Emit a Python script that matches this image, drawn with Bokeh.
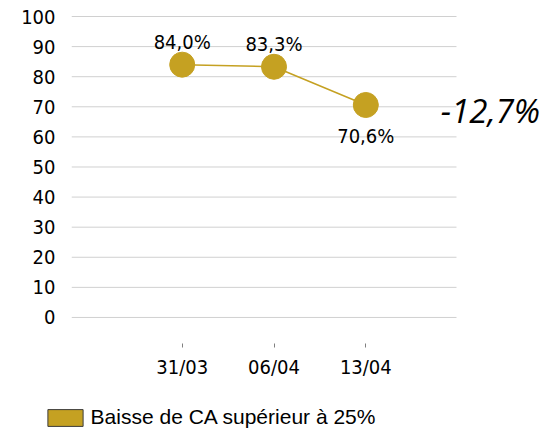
from bokeh.plotting import figure
from bokeh.layouts import column
from bokeh.models import (ColumnDataSource, Range1d, FixedTicker, Legend, LegendItem)
from bokeh.core.properties import value
from bokeh.embed import file_html
from bokeh.resources import INLINE

# ---- data ----
dates = ["31/03", "06/04", "13/04"]
values = [84.0, 83.3, 70.6]
labels = ["84,0%", "83,3%", "70,6%"]
label_side = ["above", "above", "below"]
series_name = "Baisse de CA supérieur à 25%"
y_ticks = [0, 10, 20, 30, 40, 50, 60, 70, 80, 90, 100]

GOLD = "#C5A122"
FONT = "DejaVu Sans Condensed"
idx = list(range(len(dates)))
change = values[-1] - values[-2]
change_text = ("%.1f%%" % change).replace(".", ",")

X_START, GRID_END, X_END = -1.206, 2.988, 4.121

src = ColumnDataSource(dict(
    x=idx, y=values, lab=labels,
    yoff=[-23 if s == "above" else 31 for s in label_side],
))
grid_src = ColumnDataSource(dict(y=y_ticks, x0=[X_START] * len(y_ticks),
                                 x1=[GRID_END] * len(y_ticks)))

p = figure(width=560, height=384, output_backend="svg", toolbar_location=None,
           x_range=Range1d(X_START, X_END), y_range=Range1d(-8.65, 101),
           min_border_top=13, min_border_bottom=41, min_border_left=71,
           min_border_right=0)
p.frame_align = False
p.outline_line_color = None
p.background_fill_color = "white"
p.xgrid.grid_line_color = None
p.ygrid.grid_line_color = None

# horizontal gridlines (end before the annotation area)
p.segment(x0="x0", x1="x1", y0="y", y1="y", source=grid_src,
          line_color="#d0d0d0", line_width=1)

p.line("x", "y", source=src, line_color=GOLD, line_width=1.5)
p.scatter("x", "y", source=src, size=25, fill_color=GOLD, line_color=GOLD)
p.text("x", "y", text="lab", source=src, y_offset="yoff",
       text_align="center", text_baseline="middle",
       text_font=value(FONT), text_font_size="20px", text_color="black")

# change annotation
p.text(x=[3.358], y=[68.9], text=[change_text],
       text_font=value("Open Sans"), text_font_style="italic",
       text_font_size="33px", text_align="center",
       text_baseline="middle", text_color="black")

# axes
p.yaxis.ticker = FixedTicker(ticks=y_ticks)
p.yaxis.axis_line_color = None
p.yaxis.major_tick_line_color = None
p.yaxis.minor_tick_line_color = None
p.yaxis.major_label_text_font = FONT
p.yaxis.major_label_text_font_size = "20px"
p.yaxis.major_label_text_color = "black"
p.yaxis.major_label_standoff = 10

p.xaxis.ticker = FixedTicker(ticks=idx)
p.xaxis.major_label_overrides = {i: d for i, d in zip(idx, dates)}
p.xaxis.axis_line_color = None
p.xaxis.major_tick_line_color = "#808080"
p.xaxis.major_tick_in = 0
p.xaxis.major_tick_out = 4
p.xaxis.minor_tick_line_color = None
p.xaxis.major_label_text_font = FONT
p.xaxis.major_label_text_font_size = "20px"
p.xaxis.major_label_text_color = "black"
p.xaxis.major_label_standoff = 7

# legend in its own strip below the chart
lg = figure(width=560, height=45, output_backend="svg", toolbar_location=None,
            x_range=Range1d(-10, 10), y_range=Range1d(-10, 10),
            x_axis_type=None, y_axis_type=None,
            min_border=0, min_border_left=0, min_border_right=0,
            min_border_top=0, min_border_bottom=0)
lg.frame_align = False
lg.outline_line_color = None
lg.xgrid.grid_line_color = None
lg.ygrid.grid_line_color = None
proxy = lg.rect(x="x", y="y", source=src, width=1, height=1,
                fill_color=GOLD, line_color="#3c3c3c", visible=False)
legend = Legend(items=[LegendItem(label=series_name, renderers=[proxy])],
                location=(42.6, 0), padding=0, margin=0,
                glyph_width=44, glyph_height=21, label_height=16, label_standoff=4,
                label_text_font="Liberation Sans", label_text_font_size="21px",
                label_text_color="black", border_line_color=None,
                background_fill_alpha=0, inactive_fill_alpha=0)
lg.add_layout(legend, "center")

open("out.html", "w").write(file_html(column(p, lg), INLINE))
